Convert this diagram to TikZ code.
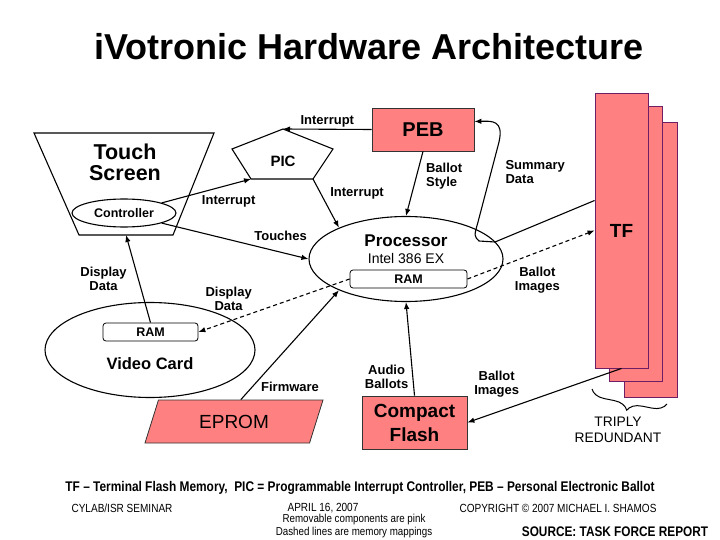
\documentclass[tikz,border=0pt]{standalone}
\usepackage{fontspec}
\setmainfont{Liberation Sans}
\newfontfamily\narrowfont[FakeStretch=0.85]{Liberation Sans}
\usetikzlibrary{calc,positioning,arrows.meta,shapes.geometric,decorations.pathreplacing}
\definecolor{pinkfill}{RGB}{255,128,128}
\definecolor{tfedge}{RGB}{110,30,100}
\newcommand{\fsz}[2]{\fontsize{#1}{#2}\selectfont}

\begin{document}
\begin{tikzpicture}[x=1pt, y=-1pt, line width=1.1pt,
                       box/.style={draw=black!80, line width=0.8pt, fill=pinkfill, align=center, inner sep=0pt, font=\bfseries\fsz{19}{24}},
                       tfbox/.style={draw=tfedge, line width=0.9pt, fill=pinkfill, minimum width=53pt, minimum height=275pt, inner sep=0pt},
                       ram/.style={draw, line width=0.8pt, rounded corners=3pt, fill=white, minimum height=18pt, inner sep=0pt, font=\bfseries\fsz{12.5}{14}},
                       oval/.style={draw, ellipse, inner sep=0pt},
                       lbl/.style={font=\bfseries\fsz{13}{14}, align=center, inner sep=2pt},
                       arrow/.style={-{Latex[length=7pt,width=5.5pt]}},
                       memmap/.style={arrow, dash pattern=on 4pt off 3pt}]
        \useasboundingbox (0,0) rectangle (720,540);
        \node[font=\bfseries\fsz{36}{40}] (title) at (369,47) {iVotronic Hardware Architecture};
        % Touch screen side
        \coordinate (ts-tl) at (34,133);
        \coordinate (ts-tr) at (214,133);
        \coordinate (ts-br) at (173,235);
        \coordinate (ts-bl) at (79,235);
        \coordinate (ts-bot) at (126,235);
        \draw (ts-tl) -- (ts-tr) -- (ts-br) -- (ts-bl) -- cycle;
        \node[font=\bfseries\fsz{21.5}{21}, align=center] (touch) at (125,162) {Touch\\Screen};
        \node[oval, minimum width=104pt, minimum height=28pt, font=\bfseries\fsz{12.5}{14}] (ctrl) at (124,213) {Controller};
        % PIC
        \coordinate (pic-top) at (283,129);
        \coordinate (pic-r) at (333,149);
        \coordinate (pic-br) at (313,179);
        \coordinate (pic-bl) at (251,179);
        \coordinate (pic-l) at (232,149);
        \draw (pic-top) -- (pic-r) -- (pic-br) -- (pic-bl) -- (pic-l) -- cycle;
        \node[font=\bfseries\fsz{15}{16}] (pic) at (283,161) {PIC};
        \node[box, minimum width=102pt, minimum height=43pt, font=\bfseries\fsz{20}{24}] (peb) at (423,129.5) {PEB};
        % Processor
        \node[oval, minimum width=194pt, minimum height=85pt] (proc) at (406,259) {};
        \node[font=\bfseries\fsz{17}{18}] (proclbl) at (406,241) {Processor};
        \node[below=-1pt of proclbl, font=\fsz{14}{15}] (cpu) {Intel 386 EX};
        \node[ram, minimum width=117pt] (pram) at (408.5,279) {RAM};
        % Terminal flash, three copies
        \node[tfbox] (tf3) at (651,259.5) {};
        \node[tfbox] (tf2) at (636,244) {};
        \node[tfbox, font=\bfseries\fsz{19}{22}] (tf1) at (621.5,230.5) {TF};
        \draw[line width=1pt, decorate, decoration={brace, mirror, amplitude=14pt}] (592,389) -- (667,404);
        \node[font=\fsz{13.8}{16}, align=center] (triply) at (618,430) {TRIPLY\\REDUNDANT};
        % Video card
        \node[oval, minimum width=210pt, minimum height=95pt] (video) at (150,350) {};
        \node[ram, minimum width=95pt] (vram) at (150.5,332) {RAM};
        \node[font=\bfseries\fsz{16.5}{18}] (videolbl) at (150,364) {Video Card};
        % Removable parts
        \node[box, trapezium, trapezium left angle=45, trapezium right angle=135, trapezium stretches body,
              minimum width=178pt, minimum height=43pt, font=\fsz{19}{22}] (eprom) at (234,421.5) {EPROM};
        \node[box, minimum width=105pt, minimum height=53pt, font=\bfseries\fsz{19}{24}] (cf) at (414.5,422.5) {Compact\\Flash};
        % Arrows
        \draw[arrow] (peb.west) -- node[lbl, above] {Interrupt} (pic-top);
        \draw[arrow] (ctrl.15) -- node[lbl, pos=0.75, below=8pt] {Interrupt} (pic-bl);
        \draw[arrow] (pic-br) -- node[lbl, pos=0.3, right=7pt] {Interrupt} (proc.155);
        \draw[arrow] (ctrl.-15) -- node[lbl, pos=0.81, above=9pt] {Touches} (proc.west);
        \draw[arrow] (peb.south) -- node[lbl, pos=0.38, right=7pt, align=left] {Ballot\\Style} (proc.north);
        \draw[arrow] ([yshift=30pt]tf1.west) -- (495,242) -- (479,241) .. controls (474,236) .. (478,222)
            -- node[lbl, pos=0.62, right=12pt, align=left] {Summary\\Data} (499,142)
            .. controls (504,120) and (492,121) .. ([yshift=8pt]peb.east);
        \draw[memmap] (pram.east) -- node[lbl, pos=0.55, below=12pt] {Ballot\\Images} (tf1.west);
        \draw[memmap] (pram.west) -- node[lbl, pos=0.8, above=8pt] {Display\\Data} (vram.east);
        \draw[arrow] (vram.north) -- node[lbl, left=9pt] {Display\\Data} (ts-bot);
        \draw[arrow] (eprom.top side) -- node[lbl, pos=0.12, right=6pt] {Firmware} (proc.205);
        \draw[arrow] (cf.north) -- node[lbl, pos=0.2, left=2pt] {Audio\\Ballots} (proc.south);
        \draw[arrow] (tf1.south) -- node[lbl, pos=0.81, above=12pt] {Ballot\\Images} (cf.east);
        % Footer
        \node[font=\narrowfont\bfseries\fsz{14}{16}] (legend) at (360,488) {TF – Terminal Flash Memory,~ PIC = Programmable Interrupt Controller, PEB – Personal Electronic Ballot};
        \node[font=\narrowfont\fsz{11.8}{12}] (seminar) at (122,508) {CYLAB/ISR SEMINAR};
        \node[font=\narrowfont\fsz{11.8}{12}] (date) at (323,508) {APRIL 16, 2007};
        \node[font=\narrowfont\fsz{11.8}{12}] (copyr) at (558,508) {COPYRIGHT © 2007 MICHAEL I. SHAMOS};
        \node[font=\narrowfont\fsz{11.5}{12.5}, align=center] (notes) at (354,526) {Removable components are pink\\Dashed lines are memory mappings};
        \node[font=\narrowfont\bfseries\fsz{13.9}{16}] (source) at (615,532) {SOURCE: TASK FORCE REPORT};
    \end{tikzpicture}
\end{document}
